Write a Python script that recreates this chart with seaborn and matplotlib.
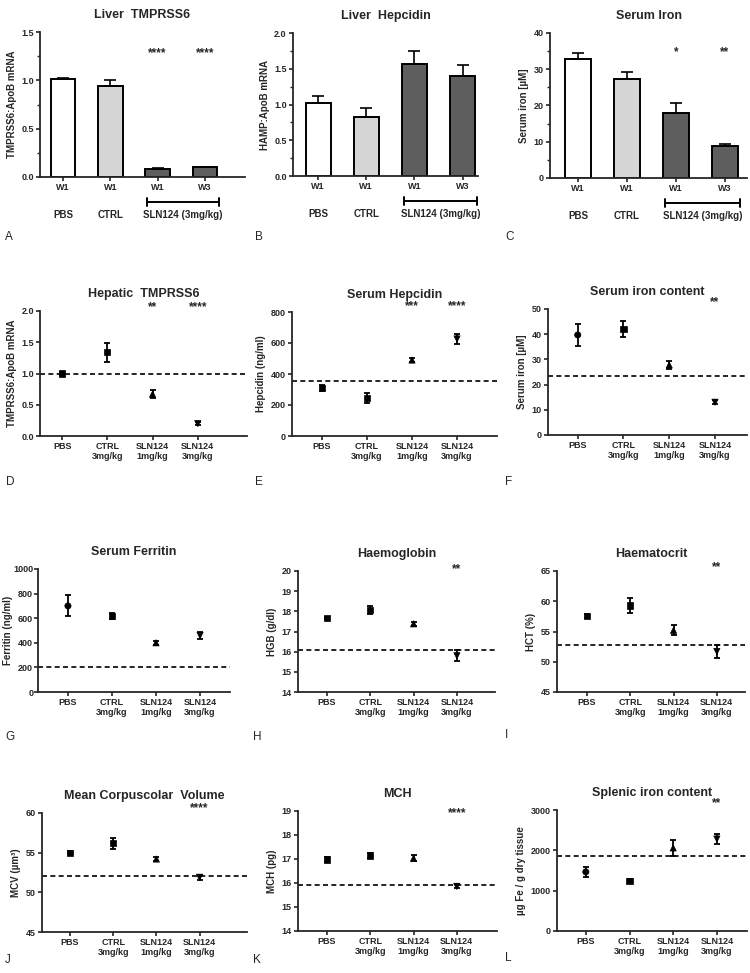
import numpy as np
import pandas as pd
import matplotlib
matplotlib.use('Agg')
import matplotlib.pyplot as plt
from matplotlib.ticker import AutoMinorLocator, FormatStrFormatter
import seaborn as sns

# ---- data ----
groups = ['PBS', 'CTRL 3mg/kg', 'SLN124 1mg/kg', 'SLN124 3mg/kg']
scatter_ticks = ['PBS', 'CTRL\n3mg/kg', 'SLN124\n1mg/kg', 'SLN124\n3mg/kg']
week_ticks = ['W1', 'W1', 'W1', 'W3']
bar_groups = ['PBS W1', 'CTRL W1', 'SLN124 W1', 'SLN124 W3']

# top row: bar means and upper SEM
liver_tmprss6 = [1.01, 0.94, 0.08, 0.10]
liver_tmprss6_err = [0.015, 0.06, 0.01, 0.006]
liver_hamp = [1.02, 0.82, 1.56, 1.40]
liver_hamp_err = [0.10, 0.13, 0.19, 0.15]
serum_iron_w = [32.8, 27.2, 17.8, 8.8]
serum_iron_w_err = [1.8, 2.0, 3.0, 0.5]

# dose panels: mean and SEM
hep_tmprss6 = [1.00, 1.34, 0.67, 0.20]
hep_tmprss6_err = [0.03, 0.15, 0.06, 0.02]
serum_hepcidin = [310, 245, 490, 626]
serum_hepcidin_err = [22, 32, 15, 30]
serum_iron = [39.7, 42.0, 27.8, 13.0]
serum_iron_err = [4.2, 3.3, 1.5, 0.8]
ferritin = [700, 618, 400, 460]
ferritin_err = [85, 25, 15, 30]
hgb = [17.68, 18.05, 17.38, 15.8]
hgb_err = [0.05, 0.2, 0.1, 0.28]
hct = [57.6, 59.3, 55.2, 51.7]
hct_err = [0.3, 1.3, 0.8, 1.1]
mcv = [55.0, 56.2, 54.2, 51.9]
mcv_err = [0.2, 0.7, 0.3, 0.3]
mch = [16.98, 17.15, 17.03, 15.86]
mch_err = [0.1, 0.1, 0.13, 0.08]
splenic_iron = [1465, 1240, 2060, 2280]
splenic_iron_err = [120, 60, 200, 120]

sns.set_style('ticks')
plt.rcParams['font.family'] = ['Liberation Sans', 'DejaVu Sans']
plt.rcParams['font.weight'] = 'bold'
plt.rcParams['axes.linewidth'] = 1.3

W, H = 750, 973
fig = plt.figure(figsize=(7.5, 9.73), dpi=100)


def add_ax(l, t, r, b):
    return fig.add_axes([l / W, 1 - b / H, (r - l) / W, (b - t) / H])


def style_ax(ax, title, ylabel, ylim, yticks, fmt, labelpad=3):
    sns.despine(ax=ax)
    ax.set_title(title, fontsize=9, fontweight='bold', pad=10)
    ax.set_ylabel(ylabel, fontsize=7, fontweight='bold', labelpad=labelpad)
    ax.set_xlabel('')
    ax.set_ylim(ylim)
    ax.set_yticks(yticks)
    ax.yaxis.set_major_formatter(FormatStrFormatter(fmt))
    ax.tick_params(axis='both', length=3, width=1.2, labelsize=6.5, pad=1.5)
    for lab in ax.get_yticklabels() + ax.get_xticklabels():
        lab.set_fontweight('bold')


def stars(ax, xs, texts, y):
    for x, t in zip(xs, texts):
        ax.text(x, y, t, ha='center', va='center', fontsize=8.5, fontweight='bold')


def bar_panel(rect, xlim, vals, errs, title, ylabel, ylim, yticks, fmt):
    ax = add_ax(*rect)
    df = pd.DataFrame({'group': bar_groups, 'value': vals})
    sns.barplot(data=df, x='group', y='value', hue='group',
                palette=['white', '#d6d6d6', '#5e5e5e', '#5e5e5e'],
                edgecolor='black', linewidth=1.4, width=0.52,
                errorbar=None, legend=False, ax=ax)
    ax.errorbar(range(4), vals, yerr=[np.zeros(4), errs], fmt='none',
                ecolor='black', elinewidth=1.2, capsize=4, capthick=1.2)
    ax.set_xlim(xlim)
    ax.set_xticks(range(4))
    ax.set_xticklabels(week_ticks)
    style_ax(ax, title, ylabel, ylim, yticks, fmt)
    ax.yaxis.set_minor_locator(AutoMinorLocator(2))
    ax.tick_params(axis='y', which='minor', length=2, width=1.0)
    hpx = rect[3] - rect[1]
    yb = -(25 / hpx)
    yl = -(38 / hpx)
    tr = ax.get_xaxis_transform()
    ax.plot([1.78, 3.3], [yb, yb], color='black', lw=1.4, transform=tr, clip_on=False)
    for x in (1.78, 3.3):
        ax.plot([x, x], [yb - 4 / hpx, yb + 4 / hpx], color='black', lw=1.4,
                transform=tr, clip_on=False)
    for x, t in [(0, 'PBS'), (1, 'CTRL'), (2.54, 'SLN124 (3mg/kg)')]:
        ax.text(x, yl, t, transform=tr, ha='center', va='center',
                fontsize=7, fontweight='bold')
    return ax


def dose_panel(rect, xlim, vals, errs, title, ylabel, ylim, yticks, fmt,
               ref, pbs_marker='o', labelpad=3):
    ax = add_ax(*rect)
    df = pd.DataFrame({'pos': np.arange(4), 'value': vals, 'group': groups})
    mk = dict(zip(groups, [pbs_marker, 's', '^', 'v']))
    ax.errorbar(range(4), vals, yerr=errs, fmt='none', ecolor='black',
                elinewidth=1.3, capsize=2.5, capthick=1.3, zorder=2)
    sns.scatterplot(data=df, x='pos', y='value', style='group', markers=mk,
                    color='black', s=20, edgecolor='black', linewidth=0.5,
                    legend=False, ax=ax, zorder=3)
    ax.axhline(ref, color='black', lw=1.2, ls=(0, (3, 2)), zorder=1)
    ax.set_xlim(xlim)
    ax.set_xticks(range(4))
    ax.set_xticklabels(scatter_ticks, linespacing=1.15)
    style_ax(ax, title, ylabel, ylim, yticks, fmt, labelpad=labelpad)
    return ax


# ---- row 1 ----
ax = bar_panel((40, 32, 245, 177), (-0.49, 3.85), liver_tmprss6, liver_tmprss6_err,
               'Liver  TMPRSS6', 'TMPRSS6:ApoB mRNA', (0, 1.5), [0, 0.5, 1.0, 1.5], '%.1f')
stars(ax, [2, 3], ['****', '****'], 1.28)
ax = bar_panel((293, 33, 478, 176), (-0.52, 3.32), liver_hamp, liver_hamp_err,
               'Liver  Hepcidin', 'HAMP:ApoB mRNA', (0, 2.0), [0, 0.5, 1.0, 1.5, 2.0], '%.1f')
ax = bar_panel((550, 33, 747, 178), (-0.57, 3.45), serum_iron_w, serum_iron_w_err,
               'Serum Iron', 'Serum iron [µM]', (0, 40), [0, 10, 20, 30, 40], '%d')
stars(ax, [2, 3], ['*', '**'], 34.8)

# ---- row 2 ----
ax = dose_panel((40, 311, 247, 436), (-0.49, 4.09), hep_tmprss6, hep_tmprss6_err,
                'Hepatic  TMPRSS6', 'TMPRSS6:ApoB mRNA', (0, 2.0),
                [0, 0.5, 1.0, 1.5, 2.0], '%.1f', 1.0, pbs_marker='s')
stars(ax, [2, 3], ['**', '****'], 2.06)
ax = dose_panel((292, 312, 497, 436), (-0.67, 3.89), serum_hepcidin, serum_hepcidin_err,
                'Serum Hepcidin', 'Hepcidin (ng/ml)', (0, 800),
                [0, 200, 400, 600, 800], '%d', 355, pbs_marker='s')
stars(ax, [2, 3], ['***', '****'], 840)
ax = dose_panel((548, 309, 747, 435), (-0.65, 3.7), serum_iron, serum_iron_err,
                'Serum iron content', 'Serum iron [µM]', (0, 50),
                [0, 10, 20, 30, 40, 50], '%d', 23.4)
stars(ax, [3], ['**'], 52.8)

# ---- row 3 ----
ax = dose_panel((38, 569, 230, 692), (-0.68, 3.68), ferritin, ferritin_err,
                'Serum Ferritin', 'Ferritin (ng/ml)', (0, 1000),
                [0, 200, 400, 600, 800, 1000], '%d', 200, labelpad=0)
ax.tick_params(axis='y', pad=0.5)
ax = dose_panel((298, 571, 495, 692), (-0.67, 3.88), hgb, hgb_err,
                'Haemoglobin', 'HGB (g/dl)', (14, 20),
                [14, 15, 16, 17, 18, 19, 20], '%d', 16.1, pbs_marker='s')
stars(ax, [3], ['**'], 20.1)
ax = dose_panel((557, 571, 745, 692), (-0.69, 3.65), hct, hct_err,
                'Haematocrit', 'HCT (%)', (45, 65),
                [45, 50, 55, 60, 65], '%d', 52.8, pbs_marker='s')
stars(ax, [3], ['**'], 65.6)

# ---- row 4 ----
ax = dose_panel((42, 813, 247, 932), (-0.65, 4.1), mcv, mcv_err,
                'Mean Corpuscolar  Volume', 'MCV (µm³)', (45, 60),
                [45, 50, 55, 60], '%d', 52.0, pbs_marker='s')
stars(ax, [3], ['****'], 60.6)
ax = dose_panel((298, 811, 497, 931), (-0.67, 3.93), mch, mch_err,
                'MCH', 'MCH (pg)', (14, 19),
                [14, 15, 16, 17, 18, 19], '%d', 15.9, pbs_marker='s')
stars(ax, [3], ['****'], 18.9)
ax = dose_panel((557, 810, 747, 931), (-0.66, 3.69), splenic_iron, splenic_iron_err,
                'Splenic iron content', 'µg Fe / g dry tissue', (0, 3000),
                [0, 1000, 2000, 3000], '%d', 1860)
stars(ax, [3], ['**'], 3170)

# panel letters
letters = [('A', 5, 237), ('B', 255, 237), ('C', 505, 237),
           ('D', 6, 482), ('E', 255, 482), ('F', 505, 482),
           ('G', 5, 737), ('H', 253, 737), ('I', 505, 735),
           ('J', 5, 960), ('K', 253, 960), ('L', 505, 958)]
for t, x, y in letters:
    fig.text(x / W, 1 - y / H, t, fontsize=8.5, fontweight='normal', va='center')

fig.savefig('out.png', dpi=100, facecolor='white')
